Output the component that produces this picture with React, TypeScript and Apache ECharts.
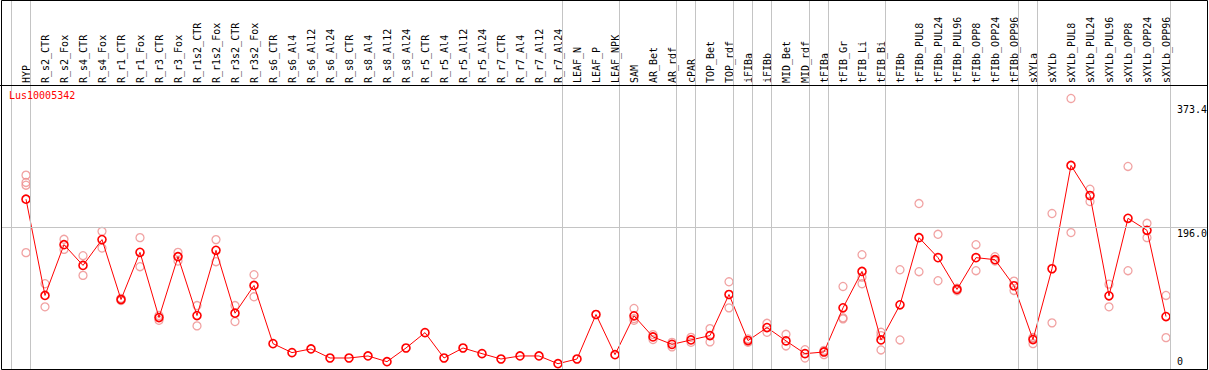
import React, { useEffect, useRef } from "react";
import * as echarts from "echarts";

const geneName = "Lus10005342";

const categories = [
  "HYP", "R_s2_CTR", "R_s2_Fox", "R_s4_CTR", "R_s4_Fox", "R_r1_CTR", "R_r1_Fox", "R_r3_CTR", "R_r3_Fox",
  "R_r1s2_CTR", "R_r1s2_Fox", "R_r3s2_CTR", "R_r3s2_Fox", "R_s6_CTR", "R_s6_Al4", "R_s6_Al12", "R_s6_Al24",
  "R_s8_CTR", "R_s8_Al4", "R_s8_Al12", "R_s8_Al24", "R_r5_CTR", "R_r5_Al4", "R_r5_Al12", "R_r5_Al24",
  "R_r7_CTR", "R_r7_Al4", "R_r7_Al12", "R_r7_Al24", "LEAF_N", "LEAF_P", "LEAF_NPK", "SAM", "AR_Bet", "AR_rdf",
  "cPAR", "TOP_Bet", "TOP_rdf", "iFIBa", "iFIBb", "MID_Bet", "MID_rdf", "tFIBa", "tFIB_Gr", "tFIB_Li", "tFIB_Bi",
  "tFIBb", "tFIBb_PUL8", "tFIBb_PUL24", "tFIBb_PUL96", "tFIBb_OPP8", "tFIBb_OPP24", "tFIBb_OPP96",
  "sXYLa", "sXYLb", "sXYLb_PUL8", "sXYLb_PUL24", "sXYLb_PUL96", "sXYLb_OPP8", "sXYLb_OPP24", "sXYLb_OPP96",
];

const meanValues = [
  234.4, 101.5, 171.6, 143.0, 178.6, 95.9, 161.0, 71.0, 155.0,
  73.8, 163.8, 77.0, 115.3, 35.0, 22.6, 27.7, 15.2,
  15.2, 18.0, 10.1, 29.0, 50.2, 15.2, 29.0, 21.2,
  13.8, 18.0, 18.0, 7.3, 13.8, 75.2, 19.8, 73.4, 44.3, 34.0,
  40.1, 46.1, 102.8, 39.2, 57.2, 38.8, 21.2, 23.5, 84.4, 134.7, 40.1,
  88.6, 181.3, 153.7, 109.8, 153.7, 150.9, 114.9,
  40.6, 138.4, 281.0, 239.5, 101.0, 208.0, 191.4, 72.4,
];

const replicateValues: number[][] = [
  [267.6, 257.5, 253.7, 160.6], [117.7, 85.8], [179.0, 165.1], [156.4, 129.2], [190.0, 167.0],
  [97.5, 94.5], [181.3, 141.2], [73.8, 67.3], [161.0, 149.0],
  [87.6, 59.5], [178.6, 148.1], [87.6, 65.5], [130.1, 99.7], [], [], [], [],
  [], [], [], [], [], [], [], [],
  [], [], [], [], [], [], [], [83.5, 69.6, 67.3], [47.5, 40.6], [36.8, 30.5],
  [43.7, 36.8], [55.8, 37.4], [120.4, 84.4], [41.5, 37.0], [63.1, 50.7], [47.9, 31.8], [26.7, 15.2],
  [25.7, 19.8], [113.9, 70.6, 69.2], [157.8, 126.8, 117.7], [50.7, 46.1, 26.3],
  [137.0, 40.1], [228.4, 134.3], [185.9, 121.8], [111.5, 108.0], [171.6, 135.7], [155.0, 149.0], [121.3, 108.4],
  [43.5, 42.9, 35.0], [214.6, 63.7], [373.4, 188.3], [248.2, 231.2], [117.1, 85.8], [279.6, 135.7],
  [201.1, 181.3], [101.5, 43.3],
];

// a separator is drawn after each of these categories ("" = before the first one)
const groupSeparatorsAfter = [
  "", "HYP", "R_r7_Al24", "LEAF_NPK", "AR_rdf", "cPAR", "TOP_rdf", "iFIBa", "iFIBb",
  "MID_rdf", "tFIBa", "tFIB_Bi", "tFIBb_OPP96", "sXYLa", "sXYLb_OPP96",
];

const yTickValues = [0, 196.0, 373.4];
const yTickLabels = ["0", "196.0", "373.4"];
const yGridValues = [196.0];

// layout
const W = 1209;
const H = 370;
const FRAME_LEFT = 1;
const FRAME_RIGHT = 1207;
const PLOT_TOP = 85;
const PLOT_BOTTOM = 369;
const CELL = 19;
const FIRST_CENTER = 26;
const Y_MAX = 392;
const MONO = "'DejaVu Sans Mono', monospace";

export default function App() {
  const ref = useRef<HTMLDivElement>(null);

  useEffect(() => {
    document.body.style.margin = "0";
    if (!ref.current) return;
    const chart = echarts.init(ref.current, null, { renderer: "svg" });

    const n = categories.length;
    const bLeft = FIRST_CENTER - CELL / 2;
    const plotH = PLOT_BOTTOM - PLOT_TOP;
    const yMaxA = (Y_MAX * PLOT_BOTTOM) / plotH;
    const xMinA = (FRAME_LEFT - FIRST_CENTER) / CELL;
    const xMaxA = (FRAME_RIGHT - FIRST_CENTER) / CELL;

    const sepValues = groupSeparatorsAfter.map((c) => (c === "" ? -1 : categories.indexOf(c)) + 0.24);

    const gray = { color: "#c4c4c4", width: 1, type: "solid" as const };
    const lastTick = yTickValues[yTickValues.length - 1];

    const markData: any[] = [
      ...sepValues.map((v) => ({ xAxis: v, lineStyle: gray, label: { show: false } })),
      ...yGridValues.map((v) => ({ yAxis: v, lineStyle: gray, label: { show: false } })),
      ...yTickValues.map((v, i) => ({
        yAxis: v,
        lineStyle: { color: "rgba(0,0,0,0)", width: 1 },
        label: {
          show: true,
          formatter: yTickLabels[i],
          position: v === 0 ? "insideEndTop" : "insideEndBottom",
          align: "left",
          distance: [30, v === 0 ? 3 : v === lastTick ? 6 : 1],
          color: "#000",
          opacity: 1,
          fontFamily: MONO,
          fontSize: 10,
        },
      })),
    ];

    const repData: [number, number][] = [];
    replicateValues.forEach((reps, i) => reps.forEach((v) => repData.push([i, v])));

    chart.setOption({
      animation: false,
      backgroundColor: "#fff",
      title: {
        text: geneName,
        left: 9,
        top: 90,
        padding: 0,
        textStyle: { color: "#ff0000", fontSize: 10, fontWeight: "normal", fontFamily: MONO },
      },
      grid: [
        { left: FRAME_LEFT, top: 0, width: FRAME_RIGHT - FRAME_LEFT, height: PLOT_BOTTOM, show: false },
        { left: bLeft, top: PLOT_TOP, width: n * CELL, height: plotH, show: false },
      ],
      xAxis: [
        { gridIndex: 0, type: "value", min: xMinA, max: xMaxA, show: false },
        {
          gridIndex: 1,
          type: "category",
          data: categories,
          position: "top",
          boundaryGap: true,
          axisLine: { show: false },
          axisTick: { show: false },
          splitLine: { show: false },
          axisLabel: { interval: 0, rotate: 90, margin: 2, color: "#000", fontFamily: MONO, fontSize: 10 },
        },
      ],
      yAxis: [
        { gridIndex: 0, type: "value", min: 0, max: yMaxA, show: false },
        { gridIndex: 1, type: "value", min: 0, max: Y_MAX, show: false },
      ],
      graphic: [
        {
          type: "rect",
          shape: { x: FRAME_LEFT + 0.5, y: 0.5, width: FRAME_RIGHT - FRAME_LEFT, height: PLOT_BOTTOM },
          style: { fill: "none", stroke: "#000", lineWidth: 1 },
          silent: true,
          z: 100,
        },
        {
          type: "line",
          shape: { x1: 0, y1: PLOT_TOP + 0.5, x2: FRAME_RIGHT + 1, y2: PLOT_TOP + 0.5 },
          style: { stroke: "#000", lineWidth: 1 },
          silent: true,
          z: 100,
        },
      ],
      series: [
        {
          type: "line",
          xAxisIndex: 0,
          yAxisIndex: 0,
          data: [[0, 0]],
          symbol: "none",
          lineStyle: { opacity: 0 },
          silent: true,
          z: 0,
          markLine: { silent: true, symbol: ["none", "none"], animation: false, data: markData },
        },
        {
          type: "scatter",
          xAxisIndex: 1,
          yAxisIndex: 1,
          data: repData,
          symbol: "circle",
          symbolSize: 8,
          itemStyle: { color: "rgba(0,0,0,0)", borderColor: "#ee8c8c", borderWidth: 1.3 },
          z: 2,
        },
        {
          type: "line",
          xAxisIndex: 1,
          yAxisIndex: 1,
          data: meanValues,
          symbol: "circle",
          symbolSize: 8,
          showAllSymbol: true,
          lineStyle: { color: "#ff0000", width: 1 },
          itemStyle: { color: "rgba(0,0,0,0)", borderColor: "#ff0000", borderWidth: 1.6 },
          z: 3,
        },
      ],
    });

    return () => chart.dispose();
  }, []);

  return <div ref={ref} style={{ width: W, height: H }} />;
}
